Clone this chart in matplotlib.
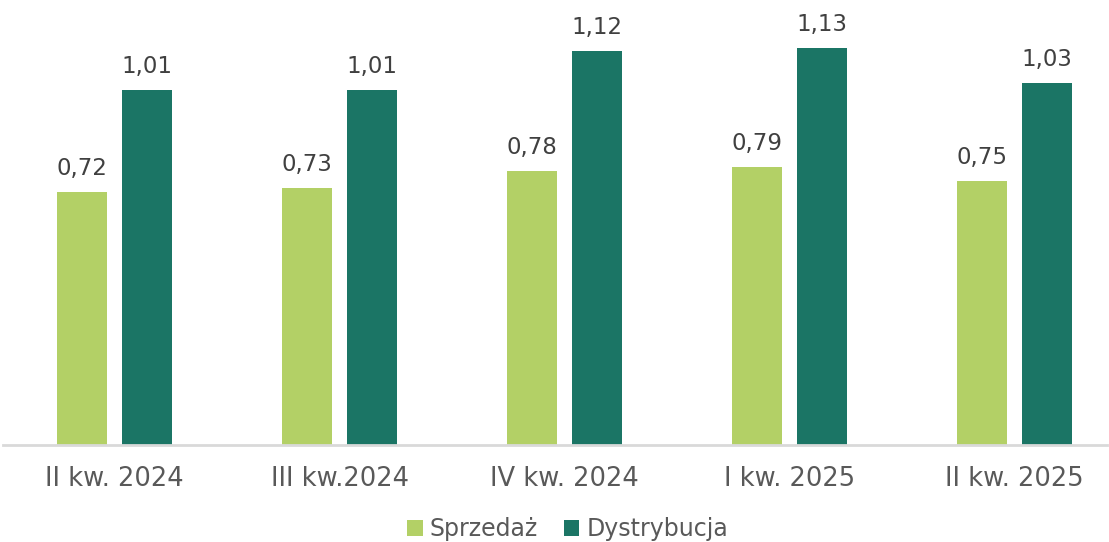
import numpy as np
import matplotlib.pyplot as plt

plt.rcParams["font.family"] = ["DejaVu Sans"]

quarters = ["II kw. 2024", "III kw.2024", "IV kw. 2024", "I kw. 2025", "II kw. 2025"]
sprzedaz = [0.72, 0.73, 0.78, 0.79, 0.75]
dystrybucja = [1.01, 1.01, 1.12, 1.13, 1.03]

light = "#b3d066"
dark = "#1b7565"

fig = plt.figure(figsize=(11.09, 5.42), dpi=100)
ax = fig.add_axes([3 / 1109, 97 / 542, 1104 / 1109, 445 / 542])

x = np.arange(len(quarters))
w = 0.222
off = 0.144
b1 = ax.bar(x - off, sprzedaz, w, color=light, label="Sprzedaż")
b2 = ax.bar(x + off, dystrybucja, w, color=dark, label="Dystrybucja")

for bars, vals in [(b1, sprzedaz), (b2, dystrybucja)]:
    for b, v in zip(bars, vals):
        ax.text(b.get_x() + b.get_width() / 2, v + 0.035, f"{v:.2f}".replace(".", ","),
                ha="center", va="bottom", fontsize=16.5, color="#404040")

ax.set_xlim(-0.496, 4.41)
ax.set_ylim(0, 1.266)
ax.set_xticks(x)
ax.set_xticklabels(quarters, fontsize=18.5, color="#595959")
ax.tick_params(axis="x", length=0, pad=15)
ax.set_yticks([])
for s in ["top", "right", "left"]:
    ax.spines[s].set_visible(False)
ax.spines["bottom"].set_color("#d9d9d9")
ax.spines["bottom"].set_linewidth(2)

fig.legend(handles=[b1, b2], loc="lower center", bbox_to_anchor=(0.512, -0.038), ncol=2,
           frameon=False, fontsize=17, handlelength=0.65, handleheight=0.65,
           handletextpad=0.3, columnspacing=1.1, labelcolor="#595959")

fig.savefig("out.png", dpi=100)
